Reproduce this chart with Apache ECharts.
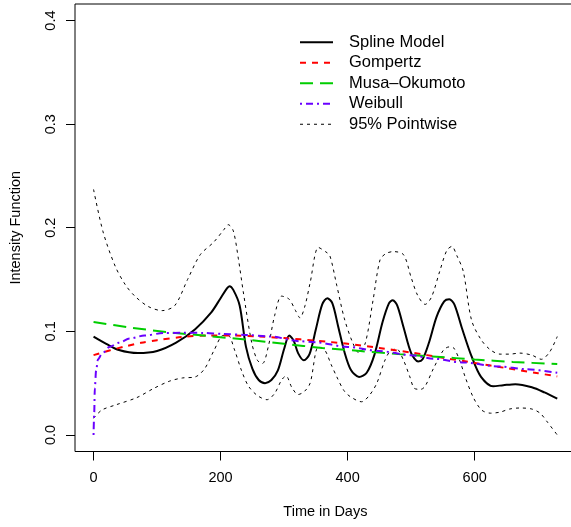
<!DOCTYPE html>
<html><head><meta charset="utf-8">
<script src="https://cdn.jsdelivr.net/npm/echarts@6/dist/echarts.min.js"></script>
<style>html,body{margin:0;padding:0;background:#fff}#c{width:571px;height:527px}</style>
</head><body><div id="c"></div>
<script>
const xTicks = [0, 200, 400, 600];
const yTicks = [0, 0.1, 0.2, 0.3, 0.4];
const legendNames = ['Spline Model', 'Gompertz', 'Musa\u2013Okumoto', 'Weibull', '95% Pointwise'];

const splineDays = [0,20,40,70,100,130,160,185,200,210,214,220,230,240,250,260,270,280,290,300,308,315,322,331,340,350,360,368,376,385,395,405,418,430,442,455,465,471,478,488,500,511,518,528,540,552,560,568,580,595,610,629,645,664,690,710,730];
const splineVals = [0.095,0.088,0.082,0.079,0.081,0.089,0.102,0.118,0.132,0.1415,0.1436,0.140,0.125,0.085,0.064,0.053,0.050,0.053,0.062,0.083,0.096,0.091,0.079,0.072,0.078,0.102,0.126,0.132,0.127,0.105,0.080,0.063,0.056,0.060,0.077,0.109,0.127,0.130,0.125,0.104,0.079,0.071,0.073,0.089,0.114,0.129,0.131,0.126,0.103,0.076,0.056,0.047,0.048,0.049,0.046,0.041,0.035];

const upperDays = [0,15,34,50,65,86,108,128,148,168,189,205,212,220,228,236,249,258,266,275,285,296,308,318,325,333,341,354,365,372,383,395,408,418,428,440,451,460,472,488,500,510,522,532,545,556,564,572,582,595,610,625,640,655,671,690,705,718,730];
const upperVals = [0.237,0.196,0.163,0.145,0.134,0.124,0.120,0.125,0.150,0.174,0.186,0.198,0.203,0.197,0.170,0.137,0.089,0.072,0.069,0.085,0.115,0.134,0.131,0.120,0.113,0.125,0.147,0.181,0.177,0.173,0.144,0.112,0.089,0.079,0.089,0.130,0.169,0.175,0.177,0.174,0.152,0.135,0.126,0.133,0.158,0.178,0.182,0.173,0.158,0.111,0.092,0.082,0.078,0.078,0.079,0.077,0.073,0.080,0.095];

const lowerDays = [0,13,35,68,95,120,140,160,175,190,204,212,222,233,244,258,273,285,296,303,312,322,332,341,354,364,374,383,394,404,422,434,446,458,467,477,488,498,505,515,522,535,551,560,567,577,585,598,611,625,640,655,671,690,703,715,730];
const lowerVals = [0.016,0.024,0.029,0.036,0.045,0.052,0.055,0.056,0.064,0.082,0.096,0.096,0.082,0.062,0.047,0.038,0.034,0.040,0.053,0.057,0.046,0.039,0.042,0.050,0.085,0.082,0.068,0.056,0.043,0.037,0.032,0.038,0.050,0.071,0.081,0.083,0.072,0.056,0.045,0.044,0.047,0.064,0.082,0.085,0.084,0.071,0.056,0.036,0.024,0.021,0.022,0.025,0.026,0.025,0.021,0.012,0.000];

const gompDays = [0,25,50,75,100,140,180,220,260,300,350,400,450,500,550,600,650,700,730];
const gompVals = [0.077,0.0815,0.0855,0.089,0.0915,0.0945,0.096,0.096,0.095,0.0935,0.091,0.088,0.084,0.0795,0.0745,0.0695,0.0645,0.0595,0.0565];

const musaDays = [0,60,120,180,240,300,360,420,480,540,600,660,730];
const musaVals = [0.109,0.1035,0.099,0.0955,0.092,0.088,0.084,0.081,0.078,0.0755,0.0728,0.0705,0.0684];

const weibDays = [0,1,2,4,7,13,25,40,57,80,110,140,173,204,240,278,325,349,400,450,500,535,580,640,680,730];
const weibVals = [0,0.02,0.045,0.062,0.073,0.078,0.085,0.089,0.093,0.096,0.0983,0.0987,0.0985,0.0975,0.0965,0.095,0.0905,0.0894,0.085,0.081,0.077,0.0736,0.070,0.066,0.0635,0.060];

const zip = (a, b) => a.map((d, i) => [d, b[i]]);
const FONT = 'Liberation Sans, Arial, Helvetica, sans-serif';

function line(name, days, vals, color, width, type, mono) {
  const s = {
    type: 'line', name: name, data: zip(days, vals),
    symbol: 'none', showSymbol: false, smooth: 0.3,
    lineStyle: { color: color, width: width, type: type, cap: 'butt' },
    itemStyle: { color: color },
    emphasis: { disabled: true }
  };
  if (mono) s.smoothMonotone = 'x';
  return s;
}

const chart = echarts.init(document.getElementById('c'), null, { renderer: 'canvas' });
chart.setOption({
  animation: false,
  backgroundColor: '#fff',
  textStyle: { fontFamily: FONT },
  grid: { left: 75, top: 4, width: 500.8, height: 447.5, show: true, borderColor: '#000', borderWidth: 1, containLabel: false, outerBoundsMode: 'none' },
  legend: {
    data: legendNames, orient: 'vertical', left: 299, top: 32, padding: 0,
    itemWidth: 33, itemHeight: 13, itemGap: 0,
    selectedMode: false,
    itemStyle: { opacity: 0 },
    lineStyle: { width: 'inherit' },
    textStyle: { fontFamily: FONT, fontSize: 16.5, color: '#000', lineHeight: 20.5, padding: [0, 0, 0, 11] }
  },
  xAxis: {
    type: 'value', min: -29.2, max: 759.2,
    name: 'Time in Days', nameLocation: 'middle', nameGap: 53,
    nameTextStyle: { fontFamily: FONT, fontSize: 14.5, color: '#000' },
    axisLine: { show: false, onZero: false },
    splitLine: { show: false },
    axisTick: { show: true, inside: false, length: 9, customValues: xTicks, lineStyle: { color: '#000', width: 1 } },
    axisLabel: { customValues: xTicks, margin: 19, fontFamily: FONT, fontSize: 14.5, color: '#000', showMinLabel: true, showMaxLabel: true }
  },
  yAxis: {
    type: 'value', min: -0.016, max: 0.416,
    name: 'Intensity Function', nameLocation: 'middle', nameGap: 52, nameRotate: 90,
    nameTextStyle: { fontFamily: FONT, fontSize: 14.5, color: '#000' },
    axisLine: { show: false, onZero: false },
    splitLine: { show: false },
    axisTick: { show: true, inside: false, length: 9, customValues: yTicks, lineStyle: { color: '#000', width: 1 } },
    axisLabel: { customValues: yTicks, rotate: 90, margin: 17, fontFamily: FONT, fontSize: 14.5, color: '#000', formatter: v => v.toFixed(1) }
  },
  series: [
    line(legendNames[0], splineDays, splineVals, '#000000', 2, 'solid', false),
    line(legendNames[4], upperDays, upperVals, '#000000', 1, [3, 4], false),
    line(legendNames[4], lowerDays, lowerVals, '#000000', 1, [3, 4], false),
    line(legendNames[1], gompDays, gompVals, '#ff0000', 2, [6, 6], false),
    line(legendNames[2], musaDays, musaVals, '#00cd00', 2, [13, 7], false),
    line(legendNames[3], weibDays, weibVals, '#6a00ff', 2, [2, 4, 7, 4], true)
  ]
});
</script>
</body></html>
